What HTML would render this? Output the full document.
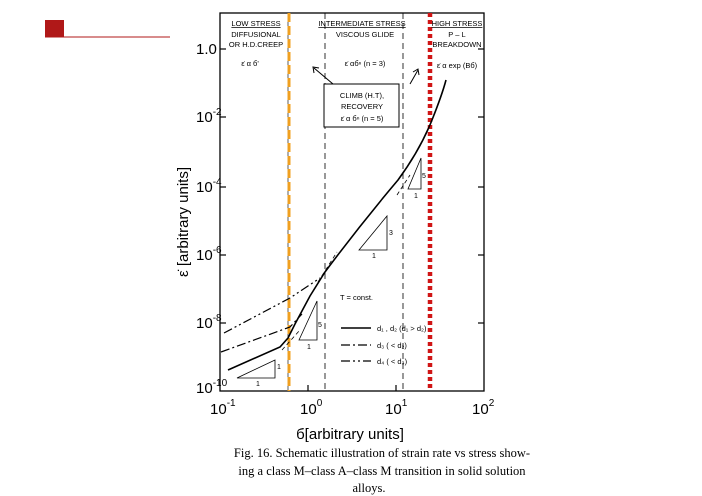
<!DOCTYPE html>
<html><head><meta charset="utf-8"><style>
body{margin:0;background:#fff;}
svg{display:block;}
text{font-family:"Liberation Sans",sans-serif;fill:#000;}
.s{font-size:7.5px;}
.cap{font-family:"Liberation Serif",serif;font-size:12.5px;}
</style></head><body>
<svg width="702" height="496" viewBox="0 0 702 496">
<rect x="45" y="20" width="19" height="17" fill="#b01818"/>
<line x1="45" y1="37" x2="170" y2="37" stroke="#b01818" stroke-width="1"/>
<rect x="220" y="13" width="264" height="378" fill="none" stroke="#000" stroke-width="1.3"/>
<!-- y ticks -->
<g stroke="#000" stroke-width="1.2">
<line x1="220" y1="49" x2="226" y2="49"/><line x1="478" y1="49" x2="484" y2="49"/>
<line x1="220" y1="117" x2="226" y2="117"/><line x1="478" y1="117" x2="484" y2="117"/>
<line x1="220" y1="187" x2="226" y2="187"/><line x1="478" y1="187" x2="484" y2="187"/>
<line x1="220" y1="255" x2="226" y2="255"/><line x1="478" y1="255" x2="484" y2="255"/>
<line x1="220" y1="323" x2="226" y2="323"/><line x1="478" y1="323" x2="484" y2="323"/>
<line x1="308" y1="391" x2="308" y2="385"/><line x1="396" y1="391" x2="396" y2="385"/>
</g>
<g font-size="15">
<text x="196" y="54">1.0</text>
<text x="196" y="122">10<tspan font-size="10" dy="-7">-2</tspan></text>
<text x="196" y="192">10<tspan font-size="10" dy="-7">-4</tspan></text>
<text x="196" y="260">10<tspan font-size="10" dy="-7">-6</tspan></text>
<text x="196" y="328">10<tspan font-size="10" dy="-7">-8</tspan></text>
<text x="196" y="393">10<tspan font-size="10" dy="-7">-10</tspan></text>
<text x="210" y="414">10<tspan font-size="10" dy="-8">-1</tspan></text>
<text x="300" y="414">10<tspan font-size="10" dy="-8">0</tspan></text>
<text x="385" y="414">10<tspan font-size="10" dy="-8">1</tspan></text>
<text x="472" y="414">10<tspan font-size="10" dy="-8">2</tspan></text>
</g>
<text x="350" y="439" font-size="15" text-anchor="middle">б[arbitrary units]</text>
<text transform="translate(188,222) rotate(-90)" font-size="15" text-anchor="middle">ε̇ [arbitrary units]</text>
<!-- vertical lines -->
<line x1="325" y1="13" x2="325" y2="391" stroke="#000" stroke-width="0.8" stroke-dasharray="6,4"/>
<line x1="403" y1="13" x2="403" y2="391" stroke="#000" stroke-width="0.8" stroke-dasharray="6,4"/>
<line x1="288" y1="13" x2="288" y2="391" stroke="#333" stroke-width="0.8"/>
<line x1="289" y1="13" x2="289" y2="391" stroke="#f0a020" stroke-width="3" stroke-dasharray="9,4"/>
<line x1="430" y1="13" x2="430" y2="391" stroke="#d01515" stroke-width="4.5" stroke-dasharray="4,3"/>
<!-- header text -->
<text x="256" y="26" class="s" text-anchor="middle" text-decoration="underline">LOW STRESS</text>
<text x="256" y="37" class="s" text-anchor="middle">DIFFUSIONAL</text>
<text x="256" y="47" class="s" text-anchor="middle">OR H.D.CREEP</text>
<text x="250" y="66" class="s" text-anchor="middle">ε̇ α б'</text>
<text x="362" y="26" class="s" text-anchor="middle" text-decoration="underline">INTERMEDIATE STRESS</text>
<text x="365" y="37" class="s" text-anchor="middle">VISCOUS GLIDE</text>
<text x="365" y="66" class="s" text-anchor="middle">ε̇ αбⁿ (n = 3)</text>
<text x="457" y="26" class="s" text-anchor="middle" text-decoration="underline">HIGH STRESS</text>
<text x="457" y="37" class="s" text-anchor="middle">P – L</text>
<text x="457" y="47" class="s" text-anchor="middle">BREAKDOWN</text>
<text x="457" y="68" class="s" text-anchor="middle">ε̇ α exp (Bб)</text>
<rect x="324" y="84" width="75" height="43" fill="#fff" stroke="#000" stroke-width="1"/>
<text x="362" y="98" class="s" text-anchor="middle">CLIMB (H.T),</text>
<text x="362" y="109" class="s" text-anchor="middle">RECOVERY</text>
<text x="362" y="121" class="s" text-anchor="middle">ε̇ α бⁿ  (n = 5)</text>
<g stroke="#000" stroke-width="1">
<line x1="333" y1="84" x2="314" y2="68"/><polyline points="314,73 313,67 319,68" fill="none"/>
<line x1="410" y1="84" x2="418" y2="70"/><polyline points="413,72 418,69 419,75" fill="none"/>
</g>
<!-- curves -->
<path d="M228,370 L280,347 L288,338 L295,324 L310,296 L325,272 Q360,225 398,180 Q420,150 432,120 Q442,95 446,80" fill="none" stroke="#000" stroke-width="1.6"/>
<path d="M221,352 L290,327 L302,314" fill="none" stroke="#000" stroke-width="1.2" stroke-dasharray="9,3,2,3"/>
<path d="M224,333 L290,298 L320,278" fill="none" stroke="#000" stroke-width="1.2" stroke-dasharray="9,3,2,3,2,3"/>
<line x1="282" y1="350" x2="300" y2="330" stroke="#000" stroke-width="0.8" stroke-dasharray="4,3"/>
<line x1="318" y1="282" x2="337" y2="252" stroke="#000" stroke-width="0.8" stroke-dasharray="4,3"/>
<line x1="397" y1="195" x2="410" y2="175" stroke="#000" stroke-width="0.8" stroke-dasharray="4,3"/>
<!-- slope triangles -->
<g fill="none" stroke="#000" stroke-width="0.8">
<polygon points="237,378 275,360 275,378"/>
<polygon points="299,340 317,301 317,340"/>
<polygon points="359,250 387,216 387,250"/>
<polygon points="408,189 421,158 421,189"/>
</g>
<g font-size="7">
<text x="277" y="369">1</text><text x="256" y="386">1</text>
<text x="318" y="327">5</text><text x="307" y="349">1</text>
<text x="389" y="235">3</text><text x="372" y="258">1</text>
<text x="422" y="178">5</text><text x="414" y="198">1</text>
</g>
<text x="340" y="300" class="s">T = const.</text>
<line x1="341" y1="328" x2="371" y2="328" stroke="#000" stroke-width="1.5"/>
<text x="377" y="331" class="s">d₁ , d₂ (d₁ &gt; d₂)</text>
<line x1="341" y1="345" x2="371" y2="345" stroke="#000" stroke-width="1.2" stroke-dasharray="9,3,2,3"/>
<text x="377" y="348" class="s">d₃ ( &lt; d₂)</text>
<line x1="341" y1="361" x2="371" y2="361" stroke="#000" stroke-width="1.2" stroke-dasharray="9,3,2,3,2,3"/>
<text x="377" y="364" class="s">d₄ ( &lt; d₃)</text>
<!-- caption -->
<text x="382" y="457" class="cap" text-anchor="middle">Fig. 16.  Schematic illustration of strain rate vs stress show-</text>
<text x="382" y="475" class="cap" text-anchor="middle">ing a class M–class A–class M transition in solid solution</text>
<text x="369" y="492" class="cap" text-anchor="middle">alloys.</text>
</svg>
</body></html>
